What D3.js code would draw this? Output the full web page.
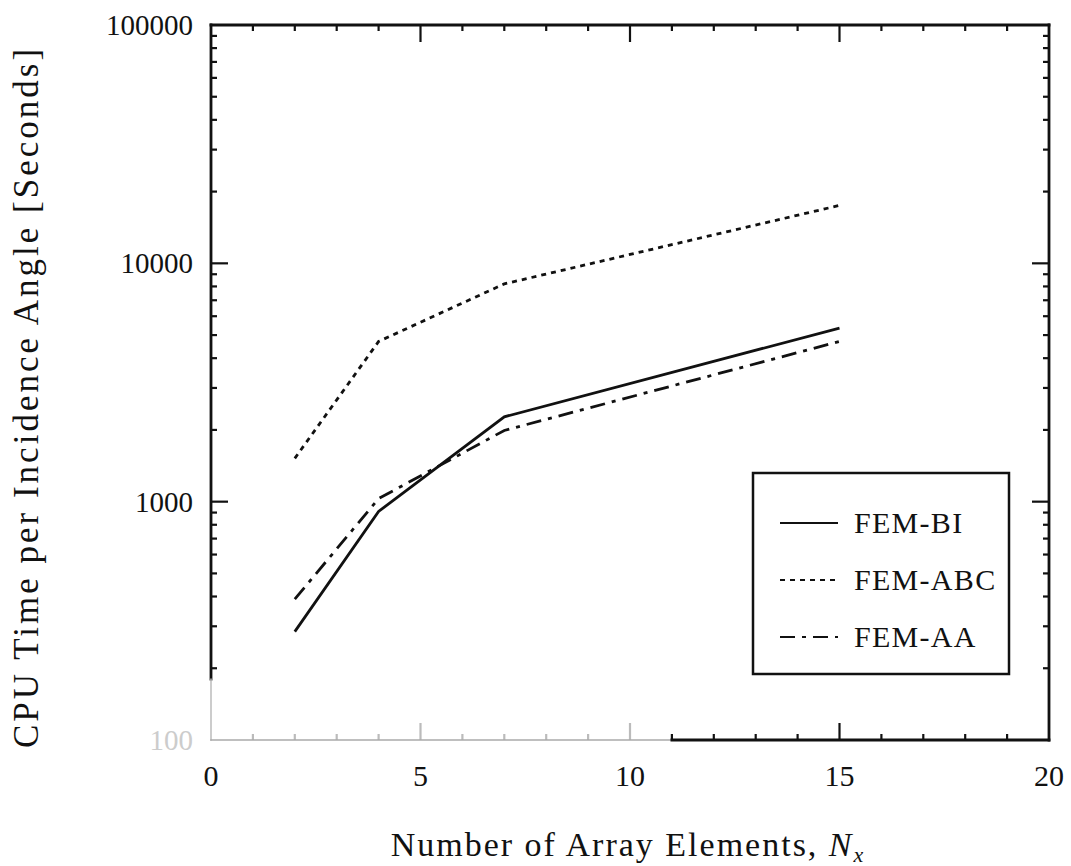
<!DOCTYPE html>
<html>
<head>
<meta charset="utf-8">
<script src="https://cdn.jsdelivr.net/npm/d3@7"></script>
<style>
  body { margin: 0; background: #fff; }
  svg text { font-family: "Liberation Serif", "DejaVu Serif", serif; fill: #111; }
</style>
</head>
<body>
<div id="chart-container"></div>
<script>
// data
const nx = [2, 4, 7, 15];
const femBI = [285, 910, 2270, 5350];
const femABC = [1520, 4700, 8200, 17500];
const femAA = [390, 1030, 1990, 4700];
const xTicks = [0, 5, 10, 15, 20];
const yTicks = [100, 1000, 10000, 100000];

const series = [
  { name: "FEM-BI", values: femBI, dash: null },
  { name: "FEM-ABC", values: femABC, dash: "5,5" },
  { name: "FEM-AA", values: femAA, dash: "15,7,4,7" }
];

const margin = { top: 25, right: 22, bottom: 126, left: 211 };
const width = 1071 - margin.left - margin.right;
const height = 866 - margin.top - margin.bottom;

const svg = d3.select("#chart-container")
  .append("svg")
    .attr("width", 1071)
    .attr("height", 866);

const g = svg.append("g")
  .attr("transform", `translate(${margin.left},${margin.top})`);

const x = d3.scaleLinear().domain([0, 20]).range([0, width]);
const y = d3.scaleLog().domain([100, 100000]).range([height, 0]);

// minor ticks
const xMinor = d3.range(0, 21).filter(d => d % 5 !== 0);
const yMinor = [];
[100, 1000, 10000].forEach(dec => { for (let k = 2; k <= 9; k++) yMinor.push(dec * k); });

// the scan washed out the lower left part of the frame
const faint = v => v <= 10 ? "#bbb" : "#111";

// ticks point inward on all four sides
const tickGroup = g.append("g").attr("stroke", "#111").attr("stroke-width", 2.2);
xTicks.slice(1, -1).forEach(v => {
  tickGroup.append("line").attr("x1", x(v)).attr("x2", x(v)).attr("y1", height).attr("y2", height - 17).attr("stroke", faint(v));
  tickGroup.append("line").attr("x1", x(v)).attr("x2", x(v)).attr("y1", 0).attr("y2", 17);
});
xMinor.forEach(v => {
  tickGroup.append("line").attr("x1", x(v)).attr("x2", x(v)).attr("y1", height).attr("y2", height - 6).attr("stroke", faint(v));
  tickGroup.append("line").attr("x1", x(v)).attr("x2", x(v)).attr("y1", 0).attr("y2", 6);
});
yTicks.slice(1, -1).forEach(v => {
  tickGroup.append("line").attr("x1", 0).attr("x2", 17).attr("y1", y(v)).attr("y2", y(v));
  tickGroup.append("line").attr("x1", width).attr("x2", width - 17).attr("y1", y(v)).attr("y2", y(v));
});
yMinor.forEach(v => {
  tickGroup.append("line").attr("x1", 0).attr("x2", 6).attr("y1", y(v)).attr("y2", y(v));
  tickGroup.append("line").attr("x1", width).attr("x2", width - 6).attr("y1", y(v)).attr("y2", y(v));
});

// frame
const frame = g.append("g").attr("stroke-width", 2.8).attr("stroke-linecap", "square");
frame.append("line").attr("x1", 0).attr("x2", width).attr("y1", 0).attr("y2", 0).attr("stroke", "#111");
frame.append("line").attr("x1", width).attr("x2", width).attr("y1", 0).attr("y2", height).attr("stroke", "#111");
frame.append("line").attr("x1", 0).attr("x2", 0).attr("y1", 0).attr("y2", y(180)).attr("stroke", "#111");
frame.append("line").attr("x1", 0).attr("x2", 0).attr("y1", y(180)).attr("y2", height).attr("stroke", "#bbb").attr("stroke-width", 1.5);
frame.append("line").attr("x1", 0).attr("x2", x(11)).attr("y1", height).attr("y2", height).attr("stroke", "#aaa").attr("stroke-width", 1.5);
frame.append("line").attr("x1", x(11)).attr("x2", width).attr("y1", height).attr("y2", height).attr("stroke", "#111");

// tick labels
g.selectAll(".xlab")
  .data(xTicks)
  .join("text")
    .attr("class", "xlab")
    .attr("x", d => x(d))
    .attr("y", height + 46)
    .attr("text-anchor", "middle")
    .style("font-size", "30px")
    .text(d => d);

g.selectAll(".ylab")
  .data(yTicks)
  .join("text")
    .attr("class", "ylab")
    .attr("x", -18)
    .attr("y", d => y(d) + 10)
    .attr("text-anchor", "end")
    .style("font-size", "29px")
    .style("fill", d => d === 100 ? "#ccc" : "#111")
    .text(d => d);

// the lines
const line = d3.line().x((d, i) => x(nx[i])).y(d => y(d));

g.selectAll(".series")
  .data(series)
  .join("path")
    .attr("class", "series")
    .attr("d", d => line(d.values))
    .attr("fill", "none")
    .attr("stroke", "#111")
    .attr("stroke-width", 2.8)
    .attr("stroke-dasharray", d => d.dash);

// legend
const legend = svg.append("g").attr("transform", "translate(753,473)");
legend.append("rect")
  .attr("width", 256)
  .attr("height", 201)
  .attr("fill", "#fff")
  .attr("stroke", "#111")
  .attr("stroke-width", 2.5);

const rows = legend.selectAll(".row")
  .data(series)
  .join("g")
    .attr("class", "row")
    .attr("transform", (d, i) => `translate(0,${50 + i * 57})`);

rows.append("line")
  .attr("x1", 27).attr("x2", 85)
  .attr("y1", 0).attr("y2", 0)
  .attr("stroke", "#111")
  .attr("stroke-width", 2)
  .attr("stroke-dasharray", d => d.dash);

rows.append("text")
  .attr("x", 101)
  .attr("y", 10)
  .style("font-size", "30px")
  .style("letter-spacing", "1.3px")
  .text(d => d.name);

// axis titles
svg.append("text")
  .attr("x", 628)
  .attr("y", 856)
  .attr("text-anchor", "middle")
  .style("font-size", "34px")
  .style("letter-spacing", "2px")
  .html('Number of Array Elements, <tspan font-style="italic">N</tspan><tspan font-style="italic" font-size="22px" dy="6">x</tspan>');

svg.append("text")
  .attr("transform", "translate(38,397) rotate(-90)")
  .attr("text-anchor", "middle")
  .style("font-size", "35px")
  .style("letter-spacing", "3px")
  .text("CPU Time per Incidence Angle [Seconds]");
</script>
</body>
</html>
